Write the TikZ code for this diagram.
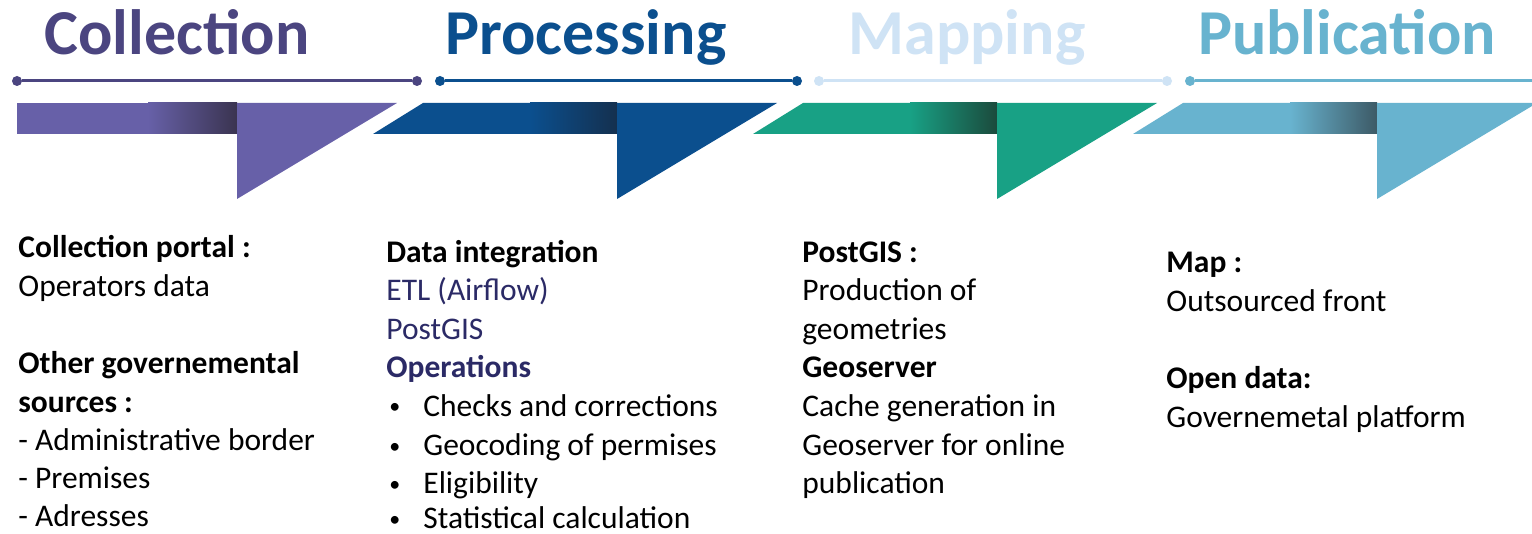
\documentclass[tikz,border=0pt]{standalone}
\usepackage{fontspec}
\setmainfont{Carlito}
\definecolor{colA}{HTML}{6760A8}
\definecolor{colAh}{HTML}{4B4580}
\definecolor{colAd}{HTML}{3A3450}
\definecolor{colB}{HTML}{0B4F8E}
\definecolor{colBd}{HTML}{14304F}
\definecolor{colC}{HTML}{18A185}
\definecolor{colCh}{HTML}{CFE3F5}
\definecolor{colCd}{HTML}{1B4A3C}
\definecolor{colD}{HTML}{68B3CF}
\definecolor{colDd}{HTML}{3D5A66}
\definecolor{navy}{HTML}{2B2A66}
\tikzset{
  head/.style={anchor=base,inner sep=0pt,font=\fontsize{32}{38}\selectfont\bfseries},
  body/.style={anchor=base west,inner sep=0pt,text depth=0pt,font=\fontsize{15.75}{19}\selectfont},
  bold/.style={body,font=\fontsize{15.75}{19}\selectfont\bfseries},
  bul/.style={anchor=base west,inner sep=0pt,text depth=0pt,font=\fontsize{11}{13}\selectfont},
  dot/.style={circle,inner sep=0pt,minimum size=5pt,fill=#1},
  tline/.style={line width=1.5pt,draw=#1}
}
\begin{document}
\begin{tikzpicture}[x=0.5pt,y=-0.5pt]
\useasboundingbox[fill=white] (0,0) rectangle (1532,534);

% headers
\node[head,text=colAh] (hA) at (177,55) {Collection};
\node[head,text=colB] (hB) at (586,55) {Processing};
\node[head,text=colCh] (hC) at (967,55) {Mapping};
\node[head,text=colD] (hD) at (1347,55) {Publication};

% timeline
\node[dot=colAh] (a1) at (17,81) {};
\node[dot=colAh] (a2) at (417,81) {};
\draw[tline=colAh] (a1) -- (a2);
\node[dot=colB] (b1) at (440,81) {};
\node[dot=colB] (b2) at (797,81) {};
\draw[tline=colB] (b1) -- (b2);
\node[dot=colCh] (c1) at (819,81) {};
\node[dot=colCh] (c2) at (1167,81) {};
\draw[tline=colCh] (c1) -- (c2);
\node[dot=colD] (d1) at (1190,81) {};
\coordinate (d2) at (1532,81);
\draw[tline=colD] (d1) -- (d2);

% ribbons
\fill[colA] (17,103) rectangle (150,134);
\shade[left color=colA,right color=colAd] (148,103) rectangle (237,134);
\fill[colA] (237,103) -- (397,103) -- (237,199) -- cycle;

\fill[colB] (373,134) -- (423,103) -- (532,103) -- (532,134) -- cycle;
\shade[left color=colB,right color=colBd] (530,103) rectangle (617,134);
\fill[colB] (617,103) -- (777,103) -- (617,199) -- cycle;

\fill[colC] (753,134) -- (803,103) -- (912,103) -- (912,134) -- cycle;
\shade[left color=colC,right color=colCd] (910,103) rectangle (997,134);
\fill[colC] (997,103) -- (1157,103) -- (997,199) -- cycle;

\fill[colD] (1133,134) -- (1183,103) -- (1292,103) -- (1292,134) -- cycle;
\shade[left color=colD,right color=colDd] (1290,103) rectangle (1377,134);
\fill[colD] (1377,103) -- (1532,103) -- (1532,106) -- (1377,199) -- cycle;

% column 1
\node[bold] (t11) at (18,258) {Collection portal :};
\node[body] (t12) at (18,297) {Operators data};
\node[bold] (t13) at (18,373) {Other governemental};
\node[bold] (t14) at (18,412) {sources :};
\node[body] (t15) at (18,450) {- Administrative border};
\node[body] (t16) at (18,488) {- Premises};
\node[body] (t17) at (18,526) {- Adresses};

% column 2
\node[bold] (t21) at (386,263) {Data integration};
\node[body,text=navy] (t22) at (386,301) {ETL (Airflow)};
\node[body,text=navy] (t23) at (386,340) {PostGIS};
\node[bold,text=navy] (t24) at (386,378) {Operations};
\node[bul] (u1) at (389,414) {•};
\node[body] (t25) at (423,416) {Checks and corrections};
\node[bul] (u2) at (389,453) {•};
\node[body] (t26) at (423,455) {Geocoding of permises};
\node[bul] (u3) at (389,491) {•};
\node[body] (t27) at (423,493) {Eligibility};
\node[bul] (u4) at (389,526) {•};
\node[body] (t28) at (423,528) {Statistical calculation};

% column 3
\node[bold] (t31) at (802,263) {PostGIS :};
\node[body] (t32) at (802,301) {Production of};
\node[body] (t33) at (802,340) {geometries};
\node[bold] (t34) at (802,378) {Geoserver};
\node[body] (t35) at (802,416) {Cache generation in};
\node[body] (t36) at (802,455) {Geoserver for online};
\node[body] (t37) at (802,493) {publication};

% column 4
\node[bold] (t41) at (1166,273) {Map :};
\node[body] (t42) at (1166,312) {Outsourced front};
\node[bold] (t43) at (1166,388) {Open data:};
\node[body] (t44) at (1166,427) {Governemetal platform};
\end{tikzpicture}
\end{document}
